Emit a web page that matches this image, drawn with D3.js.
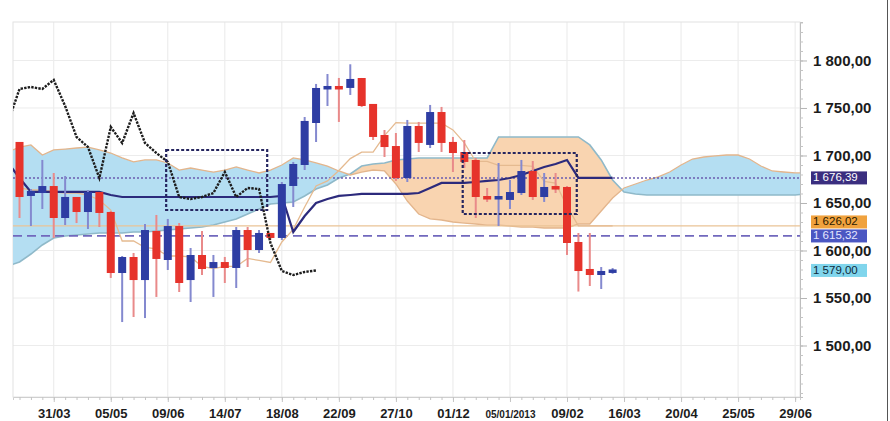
<!DOCTYPE html>
<html>
<head>
<meta charset="utf-8">
<script src="https://cdn.jsdelivr.net/npm/d3@7"></script>
<style>
  body { margin: 0; background: #fff; }
  svg { display: block; font-family: "Liberation Sans", Arial, sans-serif; }
</style>
</head>
<body>
<svg id="chart" width="890" height="421"></svg>
<script>
// weekly candles, first one is the week of 10/03/2012
const firstWeek = "2012-03-10";

const opens  = [1713.2, 1657.4, 1660.5, 1666.8, 1634.2, 1655.3, 1640.5, 1660.5, 1639.5, 1576.3,
                1592.1, 1568.9, 1619.5, 1590.0, 1624.7, 1568.9, 1594.2, 1581.6, 1586.8, 1581.6,
                1620.5, 1600.5, 1617.4, 1613.2, 1667.9, 1690.0, 1734.2, 1770.0, 1772.1, 1771.1,
                1780.5, 1753.2, 1720.5, 1708.9, 1676.3, 1730.0, 1711.1, 1744.7, 1713.2, 1702.6,
                1694.2, 1656.3, 1654.2, 1653.2, 1660.5, 1682.6, 1656.3, 1666.8, 1665.8, 1607.9,
                1579.5, 1574.2, 1577.5];
const highs  = [1714.0, 1664.7, 1695.3, 1681.6, 1678.4, 1656.3, 1663.7, 1661.6, 1641.6, 1594.2,
                1597.4, 1627.9, 1637.4, 1633.2, 1628.9, 1602.6, 1620.5, 1595.3, 1593.2, 1624.7,
                1624.7, 1621.6, 1618.4, 1672.1, 1693.2, 1740.5, 1775.3, 1785.8, 1781.6, 1796.0,
                1781.6, 1754.2, 1726.8, 1723.7, 1737.4, 1735.3, 1753.2, 1751.1, 1719.5, 1716.3,
                1697.4, 1665.8, 1692.1, 1674.2, 1695.3, 1694.2, 1681.6, 1681.6, 1667.9, 1618.4,
                1618.4, 1582.6, 1581.5];
const lows   = [1634.2, 1625.8, 1643.7, 1613.2, 1626.8, 1628.9, 1622.6, 1624.7, 1571.1, 1524.7,
                1530.0, 1528.9, 1551.1, 1579.5, 1556.3, 1545.8, 1574.2, 1551.1, 1565.8, 1560.5,
                1582.6, 1597.4, 1611.1, 1611.1, 1645.8, 1684.7, 1714.2, 1752.1, 1735.3, 1763.7,
                1751.1, 1716.3, 1698.4, 1673.2, 1672.1, 1703.7, 1707.9, 1703.7, 1682.6, 1686.8,
                1634.2, 1651.1, 1625.8, 1643.7, 1658.4, 1653.2, 1651.1, 1660.5, 1595.3, 1556.8,
                1562.6, 1559.5, 1575.5];
const closes = [1656.3, 1661.6, 1666.8, 1634.2, 1655.3, 1640.5, 1660.5, 1639.5, 1576.3, 1592.1,
                1568.9, 1620.5, 1591.1, 1624.7, 1565.8, 1594.2, 1580.5, 1586.8, 1581.6, 1620.5,
                1600.5, 1617.4, 1613.2, 1668.9, 1690.0, 1735.3, 1770.0, 1772.1, 1770.0, 1779.5,
                1752.1, 1719.5, 1708.9, 1676.3, 1730.0, 1713.2, 1744.7, 1713.2, 1702.6, 1693.2,
                1656.3, 1654.2, 1656.3, 1660.5, 1682.6, 1656.3, 1665.8, 1664.7, 1607.9, 1578.4,
                1574.2, 1577.4, 1579.0];

// kijun-sen, starting one week before the first candle
const kijun = [1692.1, 1676.3, 1661.6, 1661.6, 1661.6, 1661.6, 1661.6, 1661.6, 1661.6, 1658.4,
               1656.3, 1656.3, 1656.3, 1656.3, 1656.3, 1656.3, 1656.3, 1656.3, 1656.3, 1656.3,
               1656.3, 1656.3, 1656.3, 1656.3, 1657.4, 1619.5, 1636.3, 1650.0, 1654.2, 1657.4,
               1658.4, 1659.5, 1659.5, 1659.5, 1659.5, 1659.5, 1660.5, 1665.8, 1671.1, 1671.1,
               1671.1, 1672.1, 1673.2, 1674.2, 1676.3, 1679.5, 1683.7, 1687.9, 1691.1, 1695.3,
               1676.4, 1676.4, 1676.4, 1676.4];
// tenkan-sen, from the first candle
const tenkan = [1665.8, 1663.7, 1663.7, 1661.6, 1660.5, 1660.5, 1658.4, 1653.2, 1642.6, 1610.0,
                1610.0, 1603.2, 1601.6, 1594.2, 1594.2, 1593.2, 1583.2, 1581.0, 1583.2, 1583.2,
                1591.6, 1589.5, 1587.4, 1609.0, 1622.2, 1645.8, 1667.9, 1673.2, 1684.2, 1696.7,
                1703.6, 1703.6, 1720.9, 1734.6, 1734.0, 1734.0, 1734.0, 1734.0, 1726.9, 1713.2,
                1693.7, 1693.7, 1689.5, 1689.5, 1689.5, 1688.5, 1672.7, 1671.0, 1646.4, 1626.0,
                1626.0, 1626.0, 1626.0];
// cloud spans (already shifted forward), starting one week before the first candle
const spanA = [1703.7, 1708.9, 1711.1, 1700.5, 1705.8, 1706.8, 1707.9, 1708.9, 1705.8, 1702.6,
               1697.4, 1693.2, 1695.3, 1695.3, 1692.1, 1684.7, 1686.8, 1684.7, 1682.6, 1684.7,
               1687.9, 1684.7, 1681.6, 1684.7, 1690.0, 1697.4, 1695.3, 1692.1, 1688.9, 1683.7,
               1679.5, 1682.6, 1684.7, 1683.7, 1670.0, 1652.1, 1638.4, 1633.2, 1632.1, 1630.0,
               1628.9, 1627.9, 1626.8, 1626.8, 1625.8, 1624.7, 1624.7, 1623.7, 1623.7, 1623.7,
               1627.9, 1627.9, 1641.6, 1655.3, 1665.8, 1670.0, 1674.2, 1677.4, 1682.6, 1690.0,
               1696.3, 1698.4, 1699.5, 1700.5, 1700.5, 1696.3, 1688.9, 1683.7, 1682.6, 1681.6,
               1681.6];
const spanB = [1583.7, 1587.9, 1596.3, 1605.8, 1613.2, 1615.3, 1616.3, 1617.4, 1618.4, 1618.4,
               1618.4, 1619.5, 1619.5, 1620.5, 1621.6, 1622.6, 1623.7, 1624.7, 1626.8, 1630.0,
               1633.2, 1638.4, 1643.7, 1648.9, 1650.0, 1651.1, 1657.4, 1664.7, 1668.9, 1676.3,
               1680.5, 1688.9, 1691.1, 1692.1, 1695.3, 1696.3, 1697.4, 1697.4, 1697.4, 1697.4,
               1697.4, 1697.4, 1697.4, 1719.5, 1719.5, 1719.5, 1719.5, 1719.5, 1719.5, 1719.5,
               1719.5, 1711.1, 1695.3, 1674.2, 1661.6, 1659.5, 1658.4, 1658.4, 1658.4, 1658.4,
               1658.4, 1658.4, 1658.4, 1658.4, 1658.4, 1658.4, 1658.4, 1658.4, 1658.4, 1658.4,
               1659.5];

// current values shown on the price scale
const kijunLevel = 1676.39;
const tenkanLevel = 1626.02;
const dashedLevel = 1615.32;
const lastPrice = 1579.00;

const yTicks = [1500, 1550, 1600, 1650, 1700, 1750, 1800];
const xTicks = ["2012-03-31", "2012-05-05", "2012-06-09", "2012-07-14", "2012-08-18", "2012-09-22",
                "2012-10-27", "2012-12-01", "2013-01-05", "2013-02-09", "2013-03-16", "2013-04-20",
                "2013-05-25", "2013-06-29"];

// the two dotted boxes drawn on the chart
const boxFrom = ["2012-06-08", "2012-12-07"];
const boxTo = ["2012-08-09", "2013-02-15"];
const boxTop = [1705.8, 1702.6];
const boxBottom = [1642.6, 1638.4];

/*******************************************************************************/

let svg = d3.select("#chart");
let W = 890, H = 421;
let plot = { left: 13, right: 800, top: 22, bottom: 397 };

let parse = d3.utcParse("%Y-%m-%d");
let week0 = parse(firstWeek);
let weekDate = i => d3.utcDay.offset(week0, 7 * i);

let x = d3.scaleUtc()
    .domain([parse("2012-03-06"), parse("2013-07-02")])
    .range([plot.left, plot.right]);
let y = d3.scaleLinear()
    .domain([1445.8, 1840.5])
    .range([plot.bottom, plot.top]);

let locale = d3.formatLocale({ decimal: ",", thousands: " ", grouping: [3], currency: ["", ""] });
let fmt = locale.format(",.2f");

let defs = svg.append("defs");
defs.append("clipPath").attr("id", "plotClip")
    .append("rect")
    .attr("x", plot.left).attr("y", plot.top)
    .attr("width", plot.right - plot.left).attr("height", plot.bottom - plot.top);
defs.append("clipPath").attr("id", "labelClip")
    .append("rect")
    .attr("x", plot.right).attr("y", 0)
    .attr("width", 72).attr("height", H);

// grid
let grid = svg.append("g");
grid.selectAll(".vg")
    .data(xTicks.map(parse))
    .enter().append("line")
    .attr("x1", d => x(d)).attr("x2", d => x(d))
    .attr("y1", plot.top).attr("y2", plot.bottom)
    .attr("stroke", "#e9e9e9");
grid.selectAll(".hg")
    .data(yTicks)
    .enter().append("line")
    .attr("x1", plot.left).attr("x2", plot.right)
    .attr("y1", d => y(d)).attr("y2", d => y(d))
    .attr("stroke", "#ececec");
grid.append("rect")
    .attr("x", plot.left).attr("y", plot.top)
    .attr("width", plot.right - plot.left).attr("height", plot.bottom - plot.top)
    .attr("fill", "none").attr("stroke", "#e2e2e2");

let chart = svg.append("g").attr("clip-path", "url(#plotClip)");

// cloud
let cloud = spanA.map((a, k) => ({ d: weekDate(k - 1), a: a, b: spanB[k] }));
let aboveA = d3.area().x(p => x(p.d)).y0(0).y1(p => y(p.a));
let belowA = d3.area().x(p => x(p.d)).y0(H).y1(p => y(p.a));
defs.append("clipPath").attr("id", "aboveA").append("path").attr("d", aboveA(cloud));
defs.append("clipPath").attr("id", "belowA").append("path").attr("d", belowA(cloud));

chart.append("g").attr("clip-path", "url(#belowA)")
    .append("path")
    .attr("d", d3.area().x(p => x(p.d)).y0(0).y1(p => y(p.b))(cloud))
    .attr("fill", "#b4def2");
chart.append("g").attr("clip-path", "url(#aboveA)")
    .append("path")
    .attr("d", d3.area().x(p => x(p.d)).y0(H).y1(p => y(p.b))(cloud))
    .attr("fill", "#f9d4b0");
chart.append("path")
    .attr("d", d3.line().x(p => x(p.d)).y(p => y(p.b))(cloud))
    .attr("fill", "none").attr("stroke", "#8fb9c9").attr("stroke-width", 1.6);
chart.append("path")
    .attr("d", d3.line().x(p => x(p.d)).y(p => y(p.a))(cloud))
    .attr("fill", "none").attr("stroke", "#e3b58c").attr("stroke-width", 1.3);

// horizontal levels
chart.append("line")
    .attr("x1", plot.left).attr("x2", plot.right)
    .attr("y1", y(tenkanLevel)).attr("y2", y(tenkanLevel))
    .attr("stroke", "#eac396").attr("stroke-width", 1.3);
chart.append("line")
    .attr("x1", plot.left).attr("x2", plot.right)
    .attr("y1", y(kijunLevel)).attr("y2", y(kijunLevel))
    .attr("stroke", "#6a5cb0").attr("stroke-width", 1.5).attr("stroke-dasharray", "2,2");
chart.append("line")
    .attr("x1", plot.left).attr("x2", plot.right)
    .attr("y1", y(dashedLevel)).attr("y2", y(dashedLevel))
    .attr("stroke", "#7168bd").attr("stroke-width", 1.7).attr("stroke-dasharray", "9,5");

// tenkan & kijun
chart.append("path")
    .attr("d", d3.line().x((v, i) => x(weekDate(i))).y(v => y(v))(tenkan))
    .attr("fill", "none").attr("stroke", "#e5ba90").attr("stroke-width", 1.3);
chart.append("path")
    .attr("d", d3.line().x((v, i) => x(weekDate(i - 1))).y(v => y(v))(kijun))
    .attr("fill", "none").attr("stroke", "#2c2a7c").attr("stroke-width", 2.2);

// candles
let candles = opens.map((o, i) => ({ d: weekDate(i), o: o, h: highs[i], l: lows[i], c: closes[i] }));
let bodyW = 8;
let cg = chart.selectAll(".candle")
    .data(candles)
    .enter().append("g");
cg.append("line")
    .attr("x1", d => x(d.d)).attr("x2", d => x(d.d))
    .attr("y1", d => y(d.h)).attr("y2", d => y(d.l))
    .attr("stroke", d => d.c >= d.o ? "#8489cf" : "#e98a8a")
    .attr("stroke-width", 2);
cg.append("rect")
    .attr("x", d => x(d.d) - bodyW / 2)
    .attr("y", d => y(Math.max(d.o, d.c)) - 1)
    .attr("width", bodyW)
    .attr("height", d => Math.max(2.5, Math.abs(y(d.o) - y(d.c))) + 1)
    .attr("fill", d => d.c >= d.o ? "#2e3da3" : "#e6332b");

// chikou span: closes drawn 26 weeks back
let chikou = closes.slice(25).map((c, k) => ({ d: weekDate(k - 1), v: c }));
chart.append("path")
    .attr("d", d3.line().x(p => x(p.d)).y(p => y(p.v))(chikou))
    .attr("fill", "none").attr("stroke", "#1d1d1d")
    .attr("stroke-width", 2.4).attr("stroke-dasharray", "2.4,1.2");

// dotted boxes
svg.selectAll(".box")
    .data(boxFrom)
    .enter().append("rect")
    .attr("x", (d, i) => x(parse(d)))
    .attr("y", (d, i) => y(boxTop[i]))
    .attr("width", (d, i) => x(parse(boxTo[i])) - x(parse(d)))
    .attr("height", (d, i) => y(boxBottom[i]) - y(boxTop[i]))
    .attr("fill", "none").attr("stroke", "#25255f")
    .attr("stroke-width", 2.2).attr("stroke-dasharray", "3,2");

// bottom axis
let minorWeeks = d3.utcSaturday.range(x.domain()[0], x.domain()[1]);
svg.append("g")
    .attr("transform", `translate(0, ${plot.bottom})`)
    .call(d3.axisBottom(x).tickValues(minorWeeks).tickSize(3).tickFormat(""))
    .call(g => g.selectAll("line").attr("stroke", "#c4c4c4"))
    .call(g => g.select(".domain").attr("stroke", "#cfcfcf"));
let isYear = d => d.getUTCMonth() === 0;
let xAxis = svg.append("g")
    .attr("transform", `translate(0, ${plot.bottom})`)
    .call(d3.axisBottom(x).tickValues(xTicks.map(parse)).tickSize(5).tickPadding(6)
        .tickFormat(d => isYear(d) ? d3.utcFormat("%d/%m/%Y")(d) : d3.utcFormat("%d/%m")(d)));
xAxis.select(".domain").remove();
xAxis.selectAll("line").attr("stroke", "#c4c4c4");
xAxis.selectAll("text")
    .attr("fill", "#1c1c1c")
    .attr("font-weight", "bold")
    .style("font-size", d => isYear(d) ? "10px" : "13px")
    .attr("dy", d => isYear(d) ? "0.95em" : "0.75em");

// right axis
let yg = svg.append("g").attr("clip-path", "url(#labelClip)");
yg.append("g")
    .attr("transform", `translate(${plot.right}, 0)`)
    .call(d3.axisRight(y).tickValues(d3.range(1450, 1841, 10)).tickSize(3).tickFormat(""))
    .call(g => g.selectAll("line").attr("stroke", "#c4c4c4"))
    .call(g => g.select(".domain").attr("stroke", "#bdbdbd"));
let yAxis = yg.append("g")
    .attr("transform", `translate(${plot.right}, 0)`)
    .call(d3.axisRight(y).tickValues(yTicks).tickSize(7).tickPadding(6).tickFormat(fmt));
yAxis.select(".domain").remove();
yAxis.selectAll("line").attr("stroke", "#b5b5b5");
yAxis.selectAll("text")
    .attr("fill", "#1c1c1c")
    .attr("font-weight", "bold")
    .style("font-size", "15px");

// value tags on the price scale; when two collide the upper one moves up
let tags = [
    { v: kijunLevel, fill: "#3a2e7f", color: "#ffffff" },
    { v: tenkanLevel, fill: "#f0a23e", color: "#2a1a00" },
    { v: dashedLevel, fill: "#4b57c2", color: "#e4e6ff" },
    { v: lastPrice, fill: "#80d5ec", color: "#0f2a3a" }
];
tags.forEach(t => t.y = y(t.v));
tags.sort((a, b) => b.y - a.y);
let tagH = 14;
for (let k = 1; k < tags.length; k++) {
    if (tags[k - 1].y - tags[k].y < tagH) tags[k].y = tags[k - 1].y - tagH;
}
let tg = yg.selectAll(".tag")
    .data(tags)
    .enter().append("g");
tg.append("rect")
    .attr("x", 811).attr("y", d => d.y - tagH / 2 + 0.5)
    .attr("width", 56).attr("height", tagH - 1)
    .attr("fill", d => d.fill);
tg.append("text")
    .attr("x", 813).attr("y", d => d.y + 3.5)
    .attr("fill", d => d.color)
    .style("font-size", "11.5px")
    .text(d => fmt(d.v));

// frame line on the right
svg.append("line")
    .attr("x1", 887.5).attr("x2", 887.5)
    .attr("y1", 0).attr("y2", H)
    .attr("stroke", "#555").attr("stroke-width", 1);
</script>
</body>
</html>
